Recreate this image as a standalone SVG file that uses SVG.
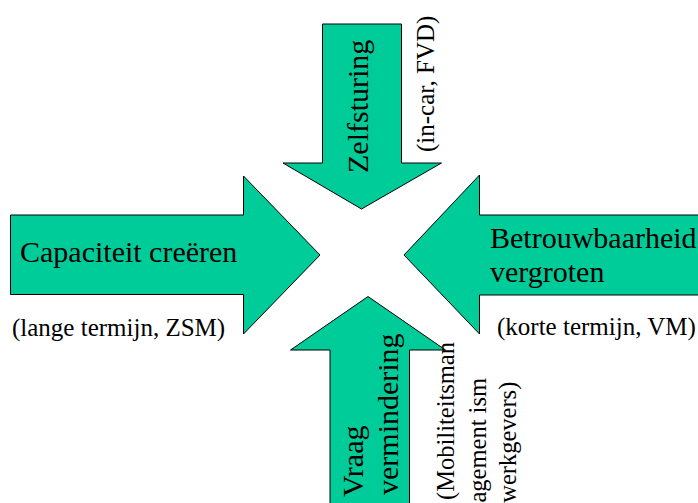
<svg xmlns="http://www.w3.org/2000/svg" width="698" height="503" viewBox="0 0 698 503">
<style>
.arr{fill:#00CC99;stroke:#000;stroke-width:1}
.big{font-size:30px}
.sm{font-size:25px}
.sm24{font-size:24.5px}
</style>
<rect width="698" height="503" fill="#fff"/>
<g id="connectors"/>
<g font-family="'Liberation Serif', 'Times New Roman', serif" fill="#000">
<g id="left">
<polygon class="arr" points="10.5,215 243.5,215 243.5,176 320,255 243.5,334 243.5,294.5 10.5,294.5"/>
<text class="big" x="20" y="262">Capaciteit creëren</text>
<text class="sm" x="12" y="336">(lange termijn, ZSM)</text>
</g>
<g id="top">
<polygon class="arr" points="322.5,24 401.5,24 401.5,163 441.5,163 361.5,209 283,163 322.5,163"/>
<text class="big" transform="translate(368,173) rotate(-90)">Zelfsturing</text>
<text class="sm" transform="translate(433.5,152) rotate(-90)">(in-car, FVD)</text>
</g>
<g id="right">
<polygon class="arr" points="700,215 479.5,215 479.5,175 404,255 479.5,334 479.5,295 700,295"/>
<text class="big" x="490" y="248">Betrouwbaarheid</text>
<text class="big" x="490" y="282">vergroten</text>
<text class="sm" x="497" y="335">(korte termijn, VM)</text>
</g>
<g id="bottom">
<polygon class="arr" points="330,505 330,350 290.5,350 368,296.5 445.5,350 409.5,350 409.5,505"/>
<text class="big" transform="translate(363,497) rotate(-90)">Vraag</text>
<text class="big" transform="translate(398,495) rotate(-90)">vermindering</text>
<text class="sm24" text-anchor="end" transform="translate(454,342) rotate(-90)">(Mobiliteitsman</text>
<text class="sm24" text-anchor="end" transform="translate(486,378) rotate(-90)">agement ism</text>
<text class="sm24" text-anchor="end" transform="translate(516,381.7) rotate(-90)">werkgevers)</text>
</g>
</g>
</svg>
